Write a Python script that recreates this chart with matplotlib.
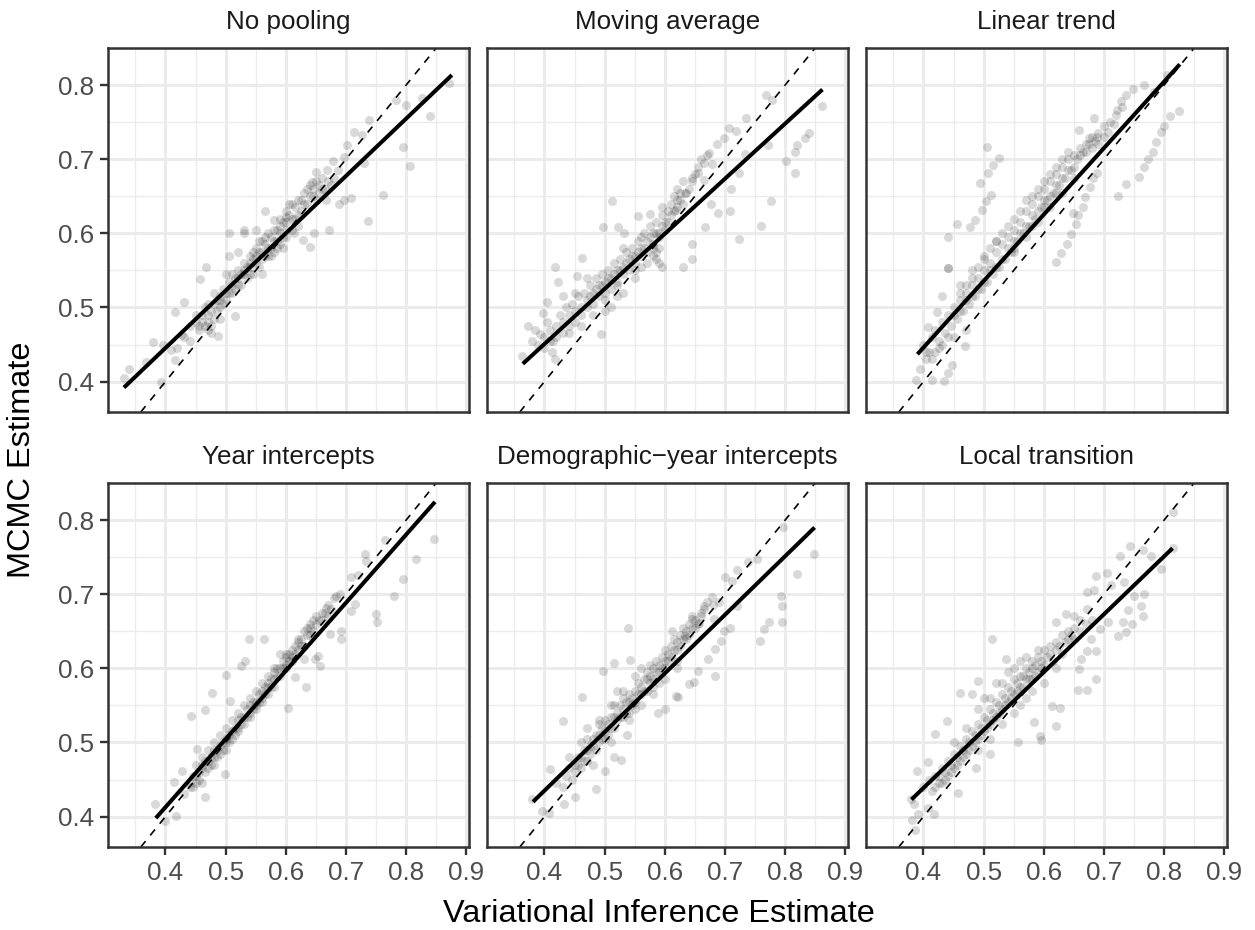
import numpy as np
import matplotlib.pyplot as plt
from matplotlib.ticker import MultipleLocator

plt.rcParams['font.family'] = ['Liberation Sans', 'DejaVu Sans']

# ---- data (VI estimate, MCMC estimate) ----
panel_titles = ["No pooling", "Moving average", "Linear trend",
                "Year intercepts", "Demographic\u2212year intercepts", "Local transition"]

x_ticks = [0.4, 0.5, 0.6, 0.7, 0.8, 0.9]
y_ticks = [0.4, 0.5, 0.6, 0.7, 0.8]

no_pooling_pts = [
    (0.331, 0.405), (0.339, 0.417), (0.392, 0.399), (0.368, 0.427), (0.379, 0.454),
    (0.396, 0.449), (0.41, 0.443), (0.416, 0.429), (0.427, 0.463), (0.416, 0.494),
    (0.43, 0.508), (0.457, 0.539), (0.468, 0.555), (0.487, 0.462), (0.515, 0.488),
    (0.506, 0.569), (0.505, 0.601), (0.531, 0.605), (0.55, 0.605), (0.566, 0.63),
    (0.58, 0.618), (0.6, 0.622), (0.614, 0.60), (0.628, 0.591), (0.641, 0.582),
    (0.647, 0.601), (0.671, 0.605), (0.709, 0.647), (0.737, 0.617), (0.761, 0.652),
    (0.794, 0.716), (0.807, 0.691), (0.84, 0.758), (0.872, 0.803), (0.827, 0.782),
    (0.799, 0.773), (0.783, 0.78), (0.738, 0.753), (0.727, 0.733), (0.713, 0.737),
    (0.702, 0.719), (0.73, 0.695), (0.678, 0.697), (0.697, 0.703), (0.686, 0.686),
    (0.667, 0.645), (0.697, 0.645), (0.689, 0.64), (0.651, 0.683), (0.643, 0.669),
    (0.668, 0.685),
    (0.44, 0.475), (0.45, 0.48), (0.455, 0.475), (0.46, 0.49), (0.465, 0.50),
    (0.47, 0.48), (0.475, 0.495), (0.48, 0.505), (0.48, 0.52), (0.485, 0.51),
    (0.49, 0.50), (0.495, 0.525), (0.50, 0.51), (0.505, 0.535), (0.51, 0.52),
    (0.515, 0.54), (0.52, 0.53), (0.52, 0.55), (0.525, 0.545), (0.53, 0.56),
    (0.535, 0.54), (0.54, 0.555), (0.54, 0.57), (0.545, 0.565), (0.55, 0.58),
    (0.55, 0.56), (0.555, 0.59), (0.56, 0.575), (0.565, 0.585), (0.57, 0.60),
    (0.57, 0.58), (0.575, 0.595), (0.58, 0.605), (0.585, 0.59), (0.59, 0.62),
    (0.59, 0.60), (0.595, 0.615), (0.60, 0.63), (0.60, 0.605), (0.605, 0.625),
    (0.61, 0.64), (0.615, 0.62), (0.62, 0.645), (0.625, 0.63), (0.63, 0.655),
    (0.635, 0.64), (0.64, 0.665), (0.645, 0.65), (0.65, 0.67), (0.655, 0.655),
    (0.66, 0.675), (0.665, 0.66), (0.52, 0.575), (0.50, 0.545), (0.53, 0.60),
    (0.545, 0.545), (0.56, 0.545), (0.58, 0.575), (0.47, 0.505), (0.45, 0.49),
    (0.43, 0.46), (0.42, 0.445), (0.44, 0.455), (0.475, 0.465), (0.49, 0.485),
    (0.455, 0.47), (0.46, 0.48), (0.465, 0.475), (0.47, 0.49), (0.475, 0.475),
    (0.48, 0.485), (0.485, 0.495), (0.49, 0.51), (0.495, 0.505), (0.50, 0.52),
    (0.505, 0.52), (0.51, 0.53), (0.515, 0.525), (0.52, 0.54), (0.525, 0.53),
    (0.53, 0.545), (0.535, 0.555), (0.54, 0.545), (0.545, 0.575), (0.55, 0.57),
    (0.555, 0.575), (0.56, 0.59), (0.565, 0.595), (0.57, 0.57), (0.575, 0.58),
    (0.58, 0.59), (0.585, 0.605), (0.59, 0.61), (0.595, 0.595), (0.60, 0.615),
    (0.605, 0.64), (0.61, 0.62), (0.615, 0.635), (0.62, 0.625), (0.625, 0.645),
    (0.63, 0.64), (0.635, 0.66), (0.64, 0.65), (0.645, 0.66), (0.65, 0.645),
    (0.655, 0.665), (0.66, 0.66), (0.67, 0.67), (0.675, 0.665), (0.68, 0.675),
    (0.62, 0.61), (0.61, 0.605), (0.60, 0.595), (0.59, 0.585), (0.575, 0.57),
    (0.56, 0.565), (0.54, 0.56), (0.53, 0.55), (0.51, 0.545), (0.49, 0.515),
    (0.47, 0.47), (0.555, 0.555), (0.565, 0.57), (0.585, 0.58), (0.595, 0.58),
]
no_pooling_fit = [(0.331, 0.392), (0.876, 0.8135)]

moving_avg_pts = [
    (0.362, 0.435), (0.372, 0.475), (0.393, 0.464), (0.397, 0.492), (0.405, 0.508),
    (0.417, 0.555), (0.422, 0.534), (0.413, 0.44), (0.418, 0.431), (0.463, 0.567),
    (0.454, 0.542), (0.494, 0.464), (0.497, 0.608), (0.512, 0.644), (0.523, 0.609),
    (0.532, 0.601), (0.555, 0.624), (0.576, 0.626), (0.595, 0.635), (0.63, 0.555),
    (0.645, 0.566), (0.645, 0.585), (0.667, 0.609), (0.709, 0.63), (0.723, 0.593),
    (0.76, 0.61), (0.776, 0.644), (0.688, 0.627), (0.677, 0.64), (0.71, 0.66),
    (0.723, 0.682), (0.733, 0.707), (0.772, 0.719), (0.801, 0.698), (0.817, 0.682),
    (0.817, 0.71), (0.819, 0.719), (0.833, 0.729), (0.84, 0.735), (0.861, 0.772),
    (0.768, 0.787), (0.779, 0.78), (0.735, 0.755), (0.706, 0.742), (0.718, 0.738),
    (0.699, 0.728), (0.686, 0.72), (0.673, 0.708), (0.678, 0.694), (0.656, 0.681),
    (0.665, 0.672), (0.645, 0.67), (0.634, 0.654), (0.62, 0.645), (0.618, 0.631),
    (0.38, 0.455), (0.385, 0.47), (0.39, 0.45), (0.40, 0.46), (0.405, 0.48),
    (0.41, 0.47), (0.415, 0.455), (0.42, 0.475), (0.425, 0.49), (0.43, 0.48),
    (0.435, 0.50), (0.44, 0.49), (0.445, 0.505), (0.45, 0.495), (0.455, 0.515),
    (0.46, 0.50), (0.465, 0.52), (0.47, 0.51), (0.475, 0.53), (0.48, 0.52),
    (0.485, 0.54), (0.49, 0.53), (0.495, 0.545), (0.50, 0.535), (0.505, 0.55),
    (0.51, 0.54), (0.515, 0.56), (0.52, 0.55), (0.525, 0.565), (0.53, 0.555),
    (0.535, 0.575), (0.54, 0.565), (0.545, 0.58), (0.55, 0.57), (0.555, 0.59),
    (0.56, 0.58), (0.565, 0.60), (0.57, 0.59), (0.575, 0.61), (0.58, 0.60),
    (0.585, 0.615), (0.59, 0.60), (0.595, 0.625), (0.60, 0.615), (0.605, 0.63),
    (0.61, 0.64), (0.615, 0.65), (0.62, 0.66), (0.625, 0.655), (0.63, 0.67),
    (0.45, 0.52), (0.46, 0.475), (0.48, 0.49), (0.50, 0.51), (0.52, 0.53),
    (0.53, 0.58), (0.55, 0.55), (0.56, 0.555), (0.58, 0.58), (0.43, 0.515),
    (0.44, 0.465), (0.47, 0.54),
    (0.47, 0.50), (0.475, 0.515), (0.48, 0.505), (0.485, 0.525), (0.49, 0.515),
    (0.495, 0.53), (0.50, 0.52), (0.505, 0.54), (0.51, 0.525), (0.515, 0.545),
    (0.52, 0.535), (0.525, 0.55), (0.53, 0.545), (0.535, 0.56), (0.54, 0.55),
    (0.545, 0.57), (0.55, 0.56), (0.555, 0.575), (0.56, 0.57), (0.565, 0.58),
    (0.57, 0.575), (0.575, 0.595), (0.58, 0.585), (0.585, 0.60), (0.59, 0.595),
    (0.595, 0.61), (0.60, 0.605), (0.605, 0.615), (0.61, 0.625), (0.615, 0.63),
    (0.62, 0.635), (0.625, 0.645), (0.63, 0.64), (0.635, 0.655), (0.64, 0.66),
    (0.645, 0.675), (0.65, 0.68), (0.655, 0.69), (0.66, 0.70), (0.665, 0.695),
    (0.67, 0.705), (0.56, 0.595), (0.57, 0.56), (0.58, 0.57), (0.59, 0.58),
    (0.50, 0.495), (0.51, 0.50), (0.52, 0.515), (0.53, 0.52), (0.45, 0.48),
    (0.46, 0.49), (0.44, 0.475), (0.43, 0.465), (0.42, 0.46), (0.41, 0.455),
    (0.40, 0.445), (0.55, 0.54), (0.585, 0.575), (0.585, 0.565), (0.59, 0.56),
    (0.595, 0.555),
]
moving_avg_fit = [(0.364, 0.424), (0.862, 0.794)]

linear_trend_pts = [
    (0.44, 0.595), (0.455, 0.612), (0.478, 0.609), (0.486, 0.618), (0.498, 0.632),
    (0.504, 0.643), (0.513, 0.652), (0.494, 0.668), (0.508, 0.681), (0.516, 0.692),
    (0.525, 0.702), (0.505, 0.717), (0.44, 0.553),
    (0.621, 0.562), (0.628, 0.573), (0.639, 0.586), (0.646, 0.599), (0.654, 0.612),
    (0.657, 0.625), (0.665, 0.636), (0.669, 0.649), (0.676, 0.663), (0.681, 0.674),
    (0.724, 0.65), (0.737, 0.666), (0.758, 0.676), (0.767, 0.689), (0.774, 0.70),
    (0.781, 0.71), (0.786, 0.723), (0.795, 0.737), (0.80, 0.745), (0.81, 0.758),
    (0.825, 0.765), (0.689, 0.681), (0.648, 0.627),
    (0.683, 0.755), (0.659, 0.74), (0.675, 0.728), (0.706, 0.737), (0.717, 0.747),
    (0.722, 0.766), (0.729, 0.779), (0.737, 0.787), (0.748, 0.795), (0.767, 0.80),
    (0.783, 0.791), (0.805, 0.813), (0.689, 0.73),
    (0.388, 0.402), (0.394, 0.417), (0.405, 0.43), (0.414, 0.402), (0.434, 0.401),
    (0.44, 0.412), (0.425, 0.445), (0.407, 0.474), (0.423, 0.494), (0.43, 0.515),
    (0.441, 0.553), (0.448, 0.423), (0.469, 0.448),
    (0.40, 0.45), (0.41, 0.44), (0.415, 0.46), (0.42, 0.47), (0.425, 0.455),
    (0.43, 0.48), (0.435, 0.465), (0.44, 0.49), (0.445, 0.475), (0.45, 0.50),
    (0.455, 0.485), (0.46, 0.51), (0.465, 0.495), (0.47, 0.52), (0.475, 0.505),
    (0.48, 0.53), (0.485, 0.515), (0.49, 0.54), (0.495, 0.525), (0.50, 0.55),
    (0.505, 0.535), (0.51, 0.56), (0.515, 0.545), (0.52, 0.575), (0.525, 0.555),
    (0.53, 0.585), (0.535, 0.565), (0.54, 0.595), (0.545, 0.575), (0.55, 0.605),
    (0.555, 0.59), (0.56, 0.615), (0.565, 0.60), (0.57, 0.63), (0.575, 0.61),
    (0.58, 0.64), (0.585, 0.62), (0.59, 0.65), (0.595, 0.635), (0.60, 0.66),
    (0.605, 0.645), (0.61, 0.67), (0.615, 0.655), (0.62, 0.68), (0.625, 0.665),
    (0.63, 0.69), (0.635, 0.675), (0.64, 0.70), (0.645, 0.685), (0.65, 0.705),
    (0.66, 0.715), (0.67, 0.72), (0.68, 0.73), (0.69, 0.735), (0.70, 0.745),
    (0.71, 0.75), (0.72, 0.76), (0.73, 0.77), (0.50, 0.57), (0.52, 0.59),
    (0.48, 0.55), (0.46, 0.53), (0.55, 0.58), (0.58, 0.61), (0.60, 0.635),
    (0.62, 0.655), (0.45, 0.46), (0.47, 0.47),
    (0.45, 0.49), (0.46, 0.495), (0.47, 0.51), (0.48, 0.515), (0.49, 0.525),
    (0.50, 0.535), (0.51, 0.55), (0.52, 0.555), (0.53, 0.565), (0.54, 0.58),
    (0.55, 0.59), (0.56, 0.60), (0.57, 0.61), (0.58, 0.625), (0.59, 0.63),
    (0.60, 0.645), (0.61, 0.65), (0.62, 0.665), (0.63, 0.675), (0.64, 0.685),
    (0.65, 0.69), (0.655, 0.70), (0.66, 0.705), (0.665, 0.71), (0.67, 0.71),
    (0.675, 0.72), (0.68, 0.715), (0.685, 0.725), (0.69, 0.72), (0.70, 0.73),
    (0.64, 0.71), (0.63, 0.70), (0.62, 0.69), (0.61, 0.68), (0.60, 0.67),
    (0.59, 0.66), (0.58, 0.65), (0.57, 0.645), (0.56, 0.63), (0.55, 0.62),
    (0.54, 0.61), (0.53, 0.60), (0.52, 0.59), (0.51, 0.58), (0.50, 0.565),
    (0.49, 0.555), (0.48, 0.54), (0.47, 0.53), (0.46, 0.52), (0.55, 0.575),
    (0.57, 0.595), (0.59, 0.615), (0.61, 0.635), (0.63, 0.655), (0.65, 0.675),
    (0.44, 0.46), (0.43, 0.45), (0.42, 0.44), (0.415, 0.43), (0.405, 0.44),
]
linear_trend_fit = [(0.390, 0.437), (0.826, 0.828)]

year_int_pts = [
    (0.383, 0.417), (0.399, 0.394), (0.418, 0.401), (0.415, 0.447), (0.428, 0.462),
    (0.443, 0.536), (0.453, 0.491), (0.466, 0.544), (0.477, 0.567), (0.465, 0.427),
    (0.499, 0.457), (0.50, 0.591), (0.508, 0.556), (0.533, 0.61), (0.539, 0.639),
    (0.564, 0.639), (0.525, 0.603), (0.603, 0.547), (0.633, 0.575), (0.657, 0.603),
    (0.654, 0.616), (0.692, 0.639), (0.692, 0.65), (0.673, 0.646), (0.709, 0.677),
    (0.715, 0.687), (0.752, 0.663), (0.75, 0.673), (0.78, 0.697), (0.795, 0.721),
    (0.817, 0.748), (0.847, 0.775), (0.765, 0.773), (0.734, 0.745), (0.731, 0.754),
    (0.709, 0.723), (0.72, 0.726), (0.684, 0.697), (0.667, 0.682), (0.648, 0.613),
    (0.616, 0.588), (0.63, 0.612),
    (0.43, 0.43), (0.44, 0.445), (0.445, 0.44), (0.45, 0.455), (0.455, 0.46),
    (0.46, 0.465), (0.465, 0.46), (0.47, 0.475), (0.475, 0.48), (0.48, 0.49),
    (0.485, 0.48), (0.49, 0.495), (0.495, 0.50), (0.50, 0.505), (0.505, 0.51),
    (0.51, 0.515), (0.515, 0.52), (0.52, 0.53), (0.525, 0.525), (0.53, 0.535),
    (0.535, 0.545), (0.54, 0.55), (0.545, 0.545), (0.55, 0.555), (0.555, 0.565),
    (0.56, 0.57), (0.565, 0.565), (0.57, 0.58), (0.575, 0.585), (0.58, 0.595),
    (0.585, 0.59), (0.59, 0.60), (0.595, 0.61), (0.60, 0.615), (0.605, 0.61),
    (0.61, 0.625), (0.615, 0.63), (0.62, 0.635), (0.625, 0.64), (0.63, 0.65),
    (0.635, 0.655), (0.64, 0.66), (0.645, 0.665), (0.65, 0.67), (0.66, 0.675),
    (0.67, 0.685), (0.68, 0.695), (0.69, 0.70), (0.45, 0.47), (0.47, 0.49),
    (0.49, 0.51), (0.51, 0.53), (0.53, 0.55), (0.55, 0.57), (0.57, 0.59),
    (0.59, 0.62), (0.61, 0.615), (0.46, 0.445), (0.48, 0.47), (0.50, 0.49),
    (0.52, 0.515), (0.54, 0.535), (0.56, 0.555), (0.58, 0.575), (0.60, 0.60),
    (0.44, 0.44), (0.445, 0.455), (0.45, 0.445), (0.455, 0.45), (0.46, 0.47),
    (0.465, 0.475), (0.47, 0.465), (0.475, 0.47), (0.48, 0.48), (0.485, 0.49),
    (0.49, 0.485), (0.495, 0.49), (0.50, 0.50), (0.505, 0.50), (0.51, 0.505),
    (0.515, 0.51), (0.52, 0.52), (0.525, 0.535), (0.53, 0.525), (0.535, 0.535),
    (0.54, 0.54), (0.545, 0.555), (0.55, 0.55), (0.555, 0.555), (0.56, 0.56),
    (0.565, 0.575), (0.57, 0.575), (0.575, 0.575), (0.58, 0.585), (0.585, 0.60),
    (0.59, 0.59), (0.595, 0.60), (0.60, 0.605), (0.605, 0.62), (0.61, 0.61),
    (0.615, 0.62), (0.62, 0.625), (0.625, 0.63), (0.63, 0.63), (0.635, 0.645),
    (0.64, 0.645), (0.645, 0.65), (0.65, 0.66), (0.655, 0.665), (0.66, 0.665),
    (0.665, 0.675), (0.67, 0.67), (0.675, 0.68), (0.58, 0.60), (0.56, 0.58),
    (0.54, 0.56), (0.52, 0.54), (0.50, 0.52), (0.48, 0.50), (0.46, 0.48),
    (0.62, 0.64), (0.64, 0.655), (0.60, 0.62), (0.57, 0.565), (0.55, 0.545),
]
year_int_fit = [(0.384, 0.398), (0.848, 0.8245)]

demo_year_pts = [
    (0.379, 0.424), (0.396, 0.408), (0.407, 0.405), (0.41, 0.464), (0.432, 0.417),
    (0.431, 0.529), (0.45, 0.426), (0.463, 0.561), (0.485, 0.437), (0.50, 0.462),
    (0.515, 0.48), (0.527, 0.476), (0.498, 0.597), (0.516, 0.607), (0.539, 0.655),
    (0.543, 0.611), (0.538, 0.51), (0.588, 0.54), (0.601, 0.545), (0.622, 0.561),
    (0.618, 0.563), (0.64, 0.579), (0.648, 0.581), (0.656, 0.597), (0.672, 0.612),
    (0.683, 0.59), (0.684, 0.626), (0.694, 0.637), (0.698, 0.651), (0.708, 0.654),
    (0.72, 0.684), (0.759, 0.637), (0.765, 0.653), (0.773, 0.662), (0.794, 0.684),
    (0.793, 0.697), (0.794, 0.663), (0.819, 0.727), (0.848, 0.754), (0.796, 0.79),
    (0.753, 0.747), (0.739, 0.744), (0.72, 0.733), (0.70, 0.723), (0.712, 0.718),
    (0.679, 0.696), (0.665, 0.684), (0.682, 0.666), (0.646, 0.666), (0.657, 0.661),
    (0.612, 0.651), (0.634, 0.644),
    (0.42, 0.445), (0.43, 0.44), (0.435, 0.455), (0.44, 0.465), (0.445, 0.45),
    (0.45, 0.47), (0.455, 0.48), (0.46, 0.465), (0.465, 0.49), (0.47, 0.475),
    (0.475, 0.495), (0.48, 0.505), (0.485, 0.49), (0.49, 0.51), (0.495, 0.52),
    (0.50, 0.505), (0.505, 0.525), (0.51, 0.535), (0.515, 0.52), (0.52, 0.54),
    (0.525, 0.55), (0.53, 0.535), (0.535, 0.555), (0.54, 0.565), (0.545, 0.55),
    (0.55, 0.57), (0.555, 0.58), (0.56, 0.565), (0.565, 0.585), (0.57, 0.595),
    (0.575, 0.58), (0.58, 0.60), (0.585, 0.61), (0.59, 0.595), (0.595, 0.615),
    (0.60, 0.625), (0.605, 0.61), (0.61, 0.63), (0.615, 0.64), (0.62, 0.625),
    (0.625, 0.645), (0.63, 0.655), (0.635, 0.64), (0.64, 0.66), (0.645, 0.67),
    (0.65, 0.655), (0.66, 0.675), (0.47, 0.52), (0.49, 0.53), (0.51, 0.55),
    (0.53, 0.56), (0.55, 0.545), (0.57, 0.57), (0.59, 0.58), (0.46, 0.50),
    (0.50, 0.53), (0.52, 0.57), (0.54, 0.54), (0.56, 0.60), (0.58, 0.575),
    (0.60, 0.60), (0.62, 0.61), (0.44, 0.48), (0.48, 0.47),
    (0.45, 0.46), (0.455, 0.47), (0.46, 0.48), (0.465, 0.475), (0.47, 0.49),
    (0.475, 0.485), (0.48, 0.495), (0.485, 0.51), (0.49, 0.50), (0.495, 0.505),
    (0.50, 0.515), (0.505, 0.51), (0.51, 0.52), (0.515, 0.535), (0.52, 0.53),
    (0.525, 0.535), (0.53, 0.545), (0.535, 0.54), (0.54, 0.555), (0.545, 0.56),
    (0.55, 0.555), (0.555, 0.565), (0.56, 0.575), (0.565, 0.57), (0.57, 0.585),
    (0.575, 0.59), (0.58, 0.585), (0.585, 0.595), (0.59, 0.605), (0.595, 0.60),
    (0.60, 0.61), (0.605, 0.62), (0.61, 0.615), (0.615, 0.625), (0.62, 0.635),
    (0.625, 0.63), (0.63, 0.64), (0.635, 0.65), (0.64, 0.645), (0.645, 0.655),
    (0.65, 0.665), (0.655, 0.66), (0.66, 0.67), (0.665, 0.68), (0.67, 0.69),
    (0.68, 0.685), (0.69, 0.69), (0.515, 0.55), (0.53, 0.57), (0.55, 0.59),
    (0.575, 0.605), (0.60, 0.585), (0.62, 0.60), (0.49, 0.525), (0.47, 0.505),
    (0.54, 0.53), (0.56, 0.55), (0.58, 0.565), (0.51, 0.50),
]
demo_year_fit = [(0.381, 0.420), (0.849, 0.790)]

local_trans_pts = [
    (0.379, 0.424), (0.384, 0.417), (0.381, 0.396), (0.386, 0.382), (0.391, 0.404),
    (0.407, 0.411), (0.417, 0.404), (0.39, 0.462), (0.407, 0.473), (0.419, 0.511),
    (0.439, 0.529), (0.457, 0.432), (0.461, 0.567), (0.481, 0.566), (0.491, 0.583),
    (0.514, 0.639), (0.538, 0.612), (0.488, 0.465), (0.51, 0.485), (0.557, 0.50),
    (0.593, 0.509), (0.596, 0.504), (0.584, 0.527), (0.62, 0.522), (0.627, 0.546),
    (0.613, 0.549), (0.657, 0.571), (0.671, 0.571), (0.686, 0.585), (0.659, 0.599),
    (0.662, 0.612), (0.672, 0.623), (0.686, 0.623), (0.679, 0.639), (0.694, 0.653),
    (0.707, 0.662), (0.723, 0.643), (0.737, 0.649), (0.746, 0.66), (0.731, 0.662),
    (0.74, 0.679), (0.765, 0.671), (0.762, 0.684), (0.766, 0.70), (0.75, 0.698),
    (0.734, 0.717), (0.672, 0.703), (0.683, 0.705), (0.686, 0.725), (0.705, 0.729),
    (0.712, 0.712), (0.726, 0.752), (0.743, 0.765), (0.765, 0.76), (0.778, 0.751),
    (0.794, 0.734), (0.815, 0.762), (0.814, 0.811), (0.651, 0.671), (0.671, 0.68),
    (0.621, 0.662), (0.637, 0.673),
    (0.40, 0.44), (0.41, 0.45), (0.415, 0.435), (0.42, 0.455), (0.425, 0.445),
    (0.43, 0.465), (0.435, 0.45), (0.44, 0.475), (0.445, 0.46), (0.45, 0.485),
    (0.455, 0.47), (0.46, 0.495), (0.465, 0.48), (0.47, 0.505), (0.475, 0.49),
    (0.48, 0.515), (0.485, 0.50), (0.49, 0.525), (0.495, 0.51), (0.50, 0.535),
    (0.505, 0.52), (0.51, 0.545), (0.515, 0.53), (0.52, 0.555), (0.525, 0.54),
    (0.53, 0.565), (0.535, 0.55), (0.54, 0.575), (0.545, 0.56), (0.55, 0.585),
    (0.555, 0.57), (0.56, 0.59), (0.565, 0.575), (0.57, 0.60), (0.575, 0.585),
    (0.58, 0.61), (0.585, 0.59), (0.59, 0.615), (0.595, 0.60), (0.60, 0.625),
    (0.61, 0.63), (0.62, 0.635), (0.63, 0.645), (0.64, 0.65), (0.65, 0.655),
    (0.66, 0.665), (0.50, 0.56), (0.52, 0.58), (0.54, 0.595), (0.56, 0.61),
    (0.58, 0.585), (0.55, 0.54), (0.53, 0.525), (0.57, 0.56), (0.47, 0.52),
    (0.45, 0.50), (0.49, 0.49), (0.51, 0.505),
    (0.42, 0.44), (0.425, 0.455), (0.43, 0.445), (0.435, 0.46), (0.44, 0.455),
    (0.445, 0.47), (0.45, 0.465), (0.455, 0.48), (0.46, 0.475), (0.465, 0.49),
    (0.47, 0.485), (0.475, 0.50), (0.48, 0.495), (0.485, 0.51), (0.49, 0.505),
    (0.495, 0.52), (0.50, 0.515), (0.505, 0.53), (0.51, 0.525), (0.515, 0.54),
    (0.52, 0.535), (0.525, 0.55), (0.53, 0.545), (0.535, 0.56), (0.54, 0.555),
    (0.545, 0.57), (0.55, 0.565), (0.555, 0.58), (0.56, 0.575), (0.565, 0.59),
    (0.57, 0.585), (0.575, 0.595), (0.58, 0.60), (0.585, 0.605), (0.59, 0.595),
    (0.595, 0.61), (0.60, 0.605), (0.605, 0.615), (0.61, 0.62), (0.615, 0.61),
    (0.62, 0.625), (0.625, 0.63), (0.63, 0.62), (0.635, 0.635), (0.64, 0.64),
    (0.645, 0.645), (0.65, 0.64), (0.66, 0.65), (0.67, 0.66), (0.68, 0.665),
    (0.53, 0.58), (0.51, 0.56), (0.49, 0.545), (0.55, 0.60), (0.57, 0.615),
    (0.59, 0.625), (0.56, 0.55), (0.58, 0.57), (0.60, 0.58), (0.62, 0.60),
]
local_trans_fit = [(0.380, 0.423), (0.814, 0.762)]

panels = [
    (no_pooling_pts, no_pooling_fit),
    (moving_avg_pts, moving_avg_fit),
    (linear_trend_pts, linear_trend_fit),
    (year_int_pts, year_int_fit),
    (demo_year_pts, demo_year_fit),
    (local_trans_pts, local_trans_fit),
]

# ---- layout (pixel based, 1255 x 930) ----
W, H = 1255, 930
fig = plt.figure(figsize=(W / 100, H / 100), dpi=100)
col_left = [107.7, 486.7, 865.7]
row_top = [48, 483]
pw, ph = 361, 364

for i, (pts, fit) in enumerate(panels):
    r, c = divmod(i, 3)
    ax = fig.add_axes([col_left[c] / W, 1 - (row_top[r] + ph) / H, pw / W, ph / H])
    ax.set_xlim(0.304, 0.904)
    ax.set_ylim(0.359, 0.85)
    ax.set_xticks(x_ticks)
    ax.set_yticks(y_ticks)
    ax.xaxis.set_minor_locator(MultipleLocator(0.05))
    ax.yaxis.set_minor_locator(MultipleLocator(0.05))
    ax.grid(which='major', color='#EBEBEB', lw=2.1)
    ax.grid(which='minor', color='#EBEBEB', lw=1.0)
    ax.set_axisbelow(True)
    for s in ax.spines.values():
        s.set_color('#333333')
        s.set_linewidth(1.8)
    ax.tick_params(which='minor', length=0)
    ax.tick_params(which='major', length=5.8, width=1.7, color='#333333',
                   labelsize=18.7, labelcolor='#4D4D4D', pad=4)
    if r == 0:
        ax.tick_params(axis='x', which='major', length=0, labelbottom=False)
    if c > 0:
        ax.tick_params(axis='y', which='major', length=0, labelleft=False)

    xy = np.array(pts)
    ax.scatter(xy[:, 0], xy[:, 1], s=42, color='black', alpha=0.15, linewidths=0)
    ax.axline((0.5, 0.5), slope=1, color='black', lw=1.2, linestyle=(0, (4.5, 4.5)))
    fx, fy = zip(*fit)
    ax.plot(fx, fy, color='black', lw=2.9, solid_capstyle='butt')
    ax.set_title(panel_titles[i], fontsize=18.7, color='#1A1A1A', pad=13.5)

fig.text(659 / W, 1 - 921.7 / H, "Variational Inference Estimate",
         ha='center', va='baseline', fontsize=23.4)
fig.text(22 / W, 1 - 460 / H, "MCMC Estimate", rotation=90,
         ha='center', va='center', fontsize=23.4)

fig.savefig("out.png", dpi=100)
